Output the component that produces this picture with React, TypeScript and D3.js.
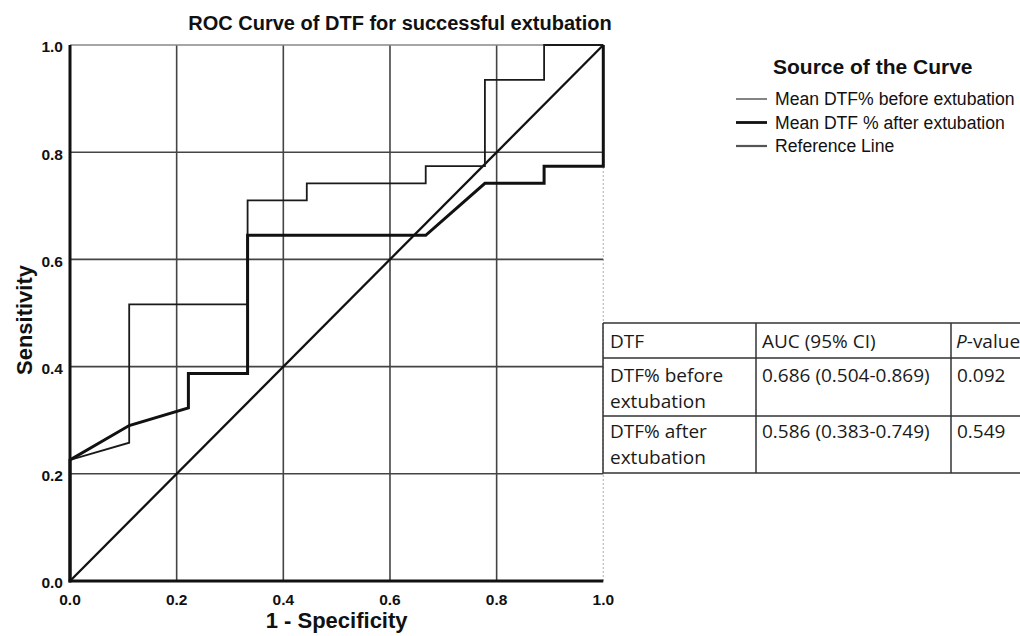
import React from "react";
import * as d3 from "d3";

// ROC points
const beforeFPR = [0, 0, 0.111, 0.111, 0.333, 0.333, 0.444, 0.444, 0.667, 0.667, 0.778, 0.778, 0.889, 0.889, 1];
const beforeTPR = [0, 0.226, 0.258, 0.516, 0.516, 0.71, 0.71, 0.742, 0.742, 0.774, 0.774, 0.935, 0.935, 1, 1];
const afterFPR = [0, 0, 0.111, 0.222, 0.222, 0.333, 0.333, 0.667, 0.778, 0.889, 0.889, 1, 1];
const afterTPR = [0, 0.226, 0.29, 0.323, 0.387, 0.387, 0.645, 0.645, 0.742, 0.742, 0.774, 0.774, 1];
const refFPR = [0, 1];
const refTPR = [0, 1];
const ticks = [0, 0.2, 0.4, 0.6, 0.8, 1.0];
const legendLabels = ["Mean DTF% before extubation", "Mean DTF % after extubation", "Reference Line"];
const tableHeader = ["DTF", "AUC (95% CI)", "P-value"];
const tableRows = [
  [["DTF% before", "extubation"], ["0.686 (0.504-0.869)"], ["0.092"]],
  [["DTF% after", "extubation"], ["0.586 (0.383-0.749)"], ["0.549"]],
];

const W = 1020;
const H = 636;
const FONT = "'Liberation Sans', Arial, sans-serif";
const TFONT = "'Open Sans', 'Noto Sans', sans-serif";

export default function App() {
  const x = d3.scaleLinear().domain([0, 1]).range([70, 603.3]);
  const y = d3.scaleLinear().domain([0, 1]).range([581, 45]);
  const line = d3.line<[number, number]>().x((d) => x(d[0])).y((d) => y(d[1]));
  const zip = (a: number[], b: number[]) => a.map((v, i) => [v, b[i]] as [number, number]);

  const legendStyles = [
    { stroke: "#666", width: 1.6 },
    { stroke: "#111", width: 2.8 },
    { stroke: "#555", width: 2.2 },
  ];

  const colX = [603, 756, 951, 1070];
  const rowY = [323, 358, 416, 473];

  return (
    <svg width={W} height={H} style={{ position: "absolute", left: 0, top: 0, background: "#fff" }}>
      <rect x={0} y={0} width={W} height={H} fill="#fff" />
      <text x={400} y={30} textAnchor="middle" fontFamily={FONT} fontWeight="bold" fontSize={20} fill="#111">
        ROC Curve of DTF for successful extubation
      </text>

      {/* grid */}
      {ticks.slice(1).map((t) => (
        <line key={"gx" + t} x1={x(t)} x2={x(t)} y1={y(0)} y2={y(1)} stroke={t === 1 ? "#bbb" : "#444"} strokeWidth={t === 1 ? 1.2 : 1.6} strokeDasharray={t === 1 ? "2,2" : undefined} />
      ))}
      {ticks.slice(1).map((t) => (
        <line key={"gy" + t} x1={x(0)} x2={x(1)} y1={y(t)} y2={y(t)} stroke={t === 1 ? "#888" : "#444"} strokeWidth={1.6} />
      ))}

      {/* curves */}
      <path d={line(zip(refFPR, refTPR)) || ""} fill="none" stroke="#111" strokeWidth={2.3} />
      <path d={line(zip(beforeFPR, beforeTPR)) || ""} fill="none" stroke="#1a1a1a" strokeWidth={1.8} />
      <path d={line(zip(afterFPR, afterTPR)) || ""} fill="none" stroke="#111" strokeWidth={3} />

      {/* axes */}
      <line x1={x(0)} x2={x(0)} y1={y(0) + 1.5} y2={y(1)} stroke="#111" strokeWidth={3} />
      <line x1={x(0) - 1.5} x2={x(1)} y1={y(0)} y2={y(0)} stroke="#111" strokeWidth={3} />

      {ticks.map((t) => (
        <text key={"ty" + t} x={63} y={y(t) + 2} dy="0.35em" textAnchor="end" fontFamily={FONT} fontWeight="bold" fontSize={15.5} fill="#111">
          {t.toFixed(1)}
        </text>
      ))}
      {ticks.map((t) => (
        <text key={"tx" + t} x={x(t)} y={605} textAnchor="middle" fontFamily={FONT} fontWeight="bold" fontSize={15.5} fill="#111">
          {t.toFixed(1)}
        </text>
      ))}

      <text x={(x(0) + x(1)) / 2} y={628} textAnchor="middle" fontFamily={FONT} fontWeight="bold" fontSize={22} fill="#111">
        1 - Specificity
      </text>
      <text transform={`translate(32, 320) rotate(-90)`} textAnchor="middle" fontFamily={FONT} fontWeight="bold" fontSize={22} fill="#111">
        Sensitivity
      </text>

      {/* legend */}
      <text x={773} y={74} fontFamily={FONT} fontWeight="bold" fontSize={21} fill="#111">
        Source of the Curve
      </text>
      {legendLabels.map((l, i) => (
        <g key={l}>
          <line x1={736} x2={767} y1={99 + i * 23.5} y2={99 + i * 23.5} stroke={legendStyles[i].stroke} strokeWidth={legendStyles[i].width} />
          <text x={775} y={99 + i * 23.5 + 6} fontFamily={FONT} fontSize={17.6} fill="#111">
            {l}
          </text>
        </g>
      ))}

      {/* table */}
      <g fontFamily={TFONT} fontSize={19} fill="#1a1a1a">
        {rowY.map((ry) => (
          <line key={"r" + ry} x1={colX[0]} x2={colX[3]} y1={ry} y2={ry} stroke="#333" strokeWidth={1.5} />
        ))}
        {colX.map((cx) => (
          <line key={"c" + cx} x1={cx} x2={cx} y1={rowY[0]} y2={rowY[3]} stroke="#333" strokeWidth={1.5} />
        ))}
        <text x={colX[0] + 7} y={348}>{tableHeader[0]}</text>
        <text x={colX[1] + 6} y={348}>{tableHeader[1]}</text>
        <text x={colX[2] + 5} y={348}>
          <tspan fontStyle="italic">{tableHeader[2].slice(0, 1)}</tspan>
          {tableHeader[2].slice(1)}
        </text>
        {tableRows.map((row, ri) =>
          row.map((cell, ci) =>
            cell.map((ln, li) => (
              <text key={`${ri}-${ci}-${li}`} x={colX[ci] + (ci === 0 ? 7 : 6)} y={[382, 438][ri] + li * 25.5}>
                {ln}
              </text>
            ))
          )
        )}
      </g>
    </svg>
  );
}
